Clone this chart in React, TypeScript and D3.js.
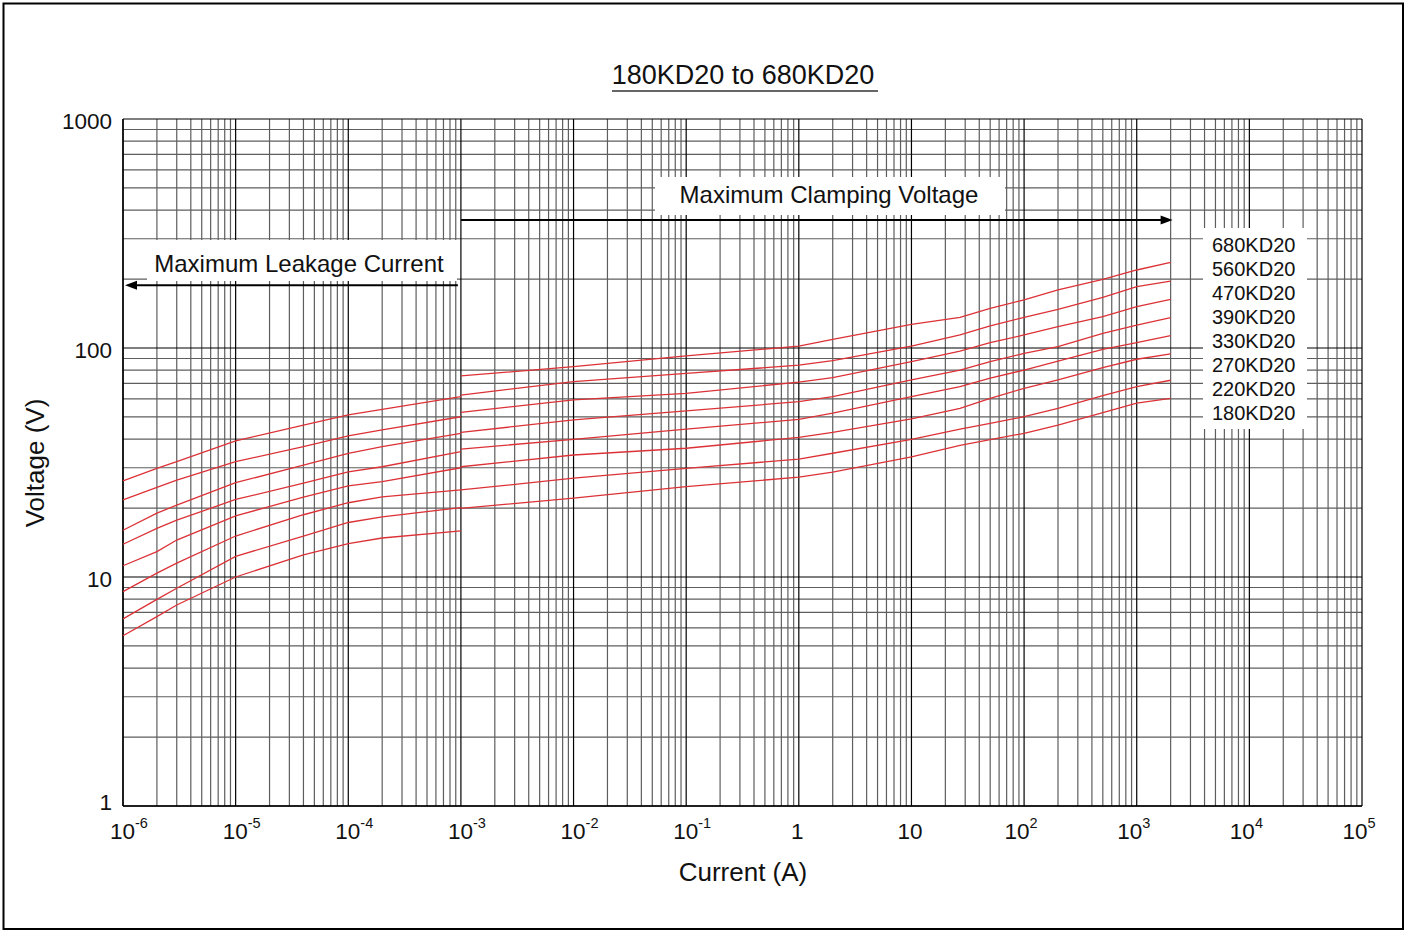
import React from "react";
import * as d3 from "d3";

const WIDTH = 1410;
const HEIGHT = 932;

const models = ["680KD20", "560KD20", "470KD20", "390KD20", "330KD20", "270KD20", "220KD20", "180KD20"];

// Maximum leakage current region (A)
const leakageCurrent = [1e-6, 2e-6, 3e-6, 1e-5, 4e-5, 1e-4, 2e-4, 1e-3];
const leak680 = [26.3, 29.8, 31.9, 39.3, 46.1, 51.0, 54.0, 61.3];
const leak560 = [21.7, 24.6, 26.5, 31.9, 37.1, 41.3, 43.9, 50.1];
const leak470 = [16.0, 19.0, 20.6, 25.8, 30.8, 34.7, 37.1, 42.4];
const leak390 = [13.9, 16.3, 17.7, 21.8, 25.7, 28.8, 30.3, 35.3];
const leak330 = [11.2, 12.9, 14.5, 18.5, 22.3, 25.0, 26.1, 30.0];
const leak270 = [8.63, 10.4, 11.5, 15.1, 18.7, 21.1, 22.4, 24.0];
const leak220 = [6.56, 7.99, 8.93, 12.3, 15.1, 17.3, 18.3, 20.1];
const leak180 = [5.54, 6.71, 7.55, 10.0, 12.5, 14.0, 14.8, 15.9];

// Maximum clamping voltage region (A)
const clampCurrent = [1e-3, 1e-2, 1e-1, 1, 2, 10, 27, 50, 100, 200, 500, 1000, 2000];
const clamp680 = [75.5, 82.9, 92.3, 102.0, 109.1, 126.9, 136.2, 149.1, 162.1, 179.2, 199.5, 219.1, 236.7];
const clamp560 = [62.3, 71.3, 77.5, 84.1, 88.0, 102.0, 114.0, 124.8, 136.2, 147.6, 166.5, 185.2, 196.1];
const clamp470 = [52.4, 59.3, 63.4, 71.0, 74.2, 87.1, 97.0, 105.5, 114.0, 123.9, 137.0, 151.5, 163.2];
const clamp390 = [42.8, 48.5, 53.1, 58.3, 61.3, 72.5, 80.1, 87.1, 94.8, 101.3, 115.9, 126.0, 135.6];
const clamp330 = [36.2, 39.9, 44.2, 48.8, 51.9, 61.3, 67.8, 73.8, 80.1, 87.7, 98.7, 105.5, 113.2];
const clamp270 = [30.3, 34.1, 36.5, 40.7, 42.8, 49.0, 54.5, 60.3, 66.7, 72.5, 82.0, 89.3, 94.2];
const clamp220 = [24.0, 27.0, 29.8, 32.7, 34.7, 39.9, 44.2, 46.9, 50.1, 54.5, 61.9, 67.8, 72.3];
const clamp180 = [19.95, 22.1, 24.8, 27.3, 28.7, 33.5, 37.6, 39.8, 42.4, 46.1, 52.2, 57.4, 60.3];

const leakageSeries = [leak680, leak560, leak470, leak390, leak330, leak270, leak220, leak180];
const clampSeries = [clamp680, clamp560, clamp470, clamp390, clamp330, clamp270, clamp220, clamp180];

const xExponents = [-6, -5, -4, -3, -2, -1, 0, 1, 2, 3, 4, 5];
const yTickValues = [1, 10, 100, 1000];
const yTickLabels = ["1", "10", "100", "1000"];

const FONT = "'Liberation Sans', Arial, Helvetica, sans-serif";
const RED = "#dc3237";
const MINOR = "#5e5e5e";

export default function App() {
  const x = d3.scaleLog().domain([1e-6, 1e5]).range([123, 1362]);
  const y = d3.scaleLog().domain([1, 1000]).range([806, 119]);

  const xMajor: number[] = xExponents.map((e) => Math.pow(10, e));
  const xMinor: number[] = [];
  for (let e = -6; e < 5; e++) for (let k = 2; k <= 9; k++) xMinor.push(k * Math.pow(10, e));
  const yMajor: number[] = [1, 10, 100, 1000];
  const yMinor: number[] = [];
  for (let e = 0; e < 3; e++) for (let k = 2; k <= 9; k++) yMinor.push(k * Math.pow(10, e));

  const [x0, x1] = x.range();
  const [y0, y1] = y.range();

  const line = d3
    .line<[number, number]>()
    .x((d) => x(d[0]))
    .y((d) => y(d[1]));

  const clampArrowY = y(362);
  const leakArrowY = y(188);
  const clampArrowStart = x(1e-3);
  const clampArrowEnd = x(clampCurrent[clampCurrent.length - 1]) + 2;
  const leakArrowStart = x(1e-6) + 2;
  const leakArrowEnd = x(1e-3) - 3;

  return (
    <svg
      width={WIDTH}
      height={HEIGHT}
      style={{ position: "absolute", left: 0, top: 0, background: "#fff" }}
      fontFamily={FONT}
    >
      <rect x={0} y={0} width={WIDTH} height={HEIGHT} fill="#fff" />
      <rect x={3.5} y={3.5} width={1399.5} height={925.5} fill="none" stroke="#000" strokeWidth={2} />

      {/* Title */}
      <text x={743} y={84} textAnchor="middle" fontSize={27} fill="#111">
        180KD20 to 680KD20
      </text>
      <line x1={612} x2={878} y1={91} y2={91} stroke="#333" strokeWidth={1.5} />

      {/* Grid */}
      <g>
        {xMinor.map((v, i) => (
          <line key={"xm" + i} x1={x(v)} x2={x(v)} y1={y1} y2={y0} stroke={MINOR} strokeWidth={1.2} />
        ))}
        {yMinor.map((v, i) => (
          <line key={"ym" + i} x1={x0} x2={x1} y1={y(v)} y2={y(v)} stroke={MINOR} strokeWidth={1.2} />
        ))}
        {xMajor.map((v, i) => (
          <line key={"xM" + i} x1={x(v)} x2={x(v)} y1={y1} y2={y0} stroke="#000" strokeWidth={1.2} />
        ))}
        {yMajor.map((v, i) => (
          <line key={"yM" + i} x1={x0} x2={x1} y1={y(v)} y2={y(v)} stroke="#000" strokeWidth={1.2} />
        ))}
        <line x1={x0} x2={x0} y1={y1} y2={y0} stroke="#000" strokeWidth={1.4} />
        <line x1={x0} x2={x1} y1={y0} y2={y0} stroke="#000" strokeWidth={1.4} />
      </g>

      {/* White label boxes */}
      <rect x={655} y={177} width={350} height={38} fill="#fff" />
      <rect x={147} y={240} width={310} height={41} fill="#fff" />
      <rect x={1203} y={228} width={104} height={201} fill="#fff" />

      {/* Curves */}
      <g fill="none" stroke={RED} strokeWidth={1.3}>
        {leakageSeries.map((vals, i) => (
          <path
            key={"leak" + i}
            d={line(leakageCurrent.map((c, j) => [c, vals[j]] as [number, number])) || ""}
          />
        ))}
        {clampSeries.map((vals, i) => (
          <path
            key={"clamp" + i}
            d={line(clampCurrent.map((c, j) => [c, vals[j]] as [number, number])) || ""}
          />
        ))}
      </g>

      {/* Arrows */}
      <line x1={clampArrowStart} x2={clampArrowEnd - 10} y1={clampArrowY} y2={clampArrowY} stroke="#000" strokeWidth={2} />
      <path
        d={`M${clampArrowEnd},${clampArrowY} L${clampArrowEnd - 12},${clampArrowY - 4.5} L${clampArrowEnd - 12},${clampArrowY + 4.5} Z`}
        fill="#000"
      />
      <line x1={leakArrowStart + 10} x2={leakArrowEnd} y1={leakArrowY} y2={leakArrowY} stroke="#000" strokeWidth={2} />
      <path
        d={`M${leakArrowStart},${leakArrowY} L${leakArrowStart + 12},${leakArrowY - 4.5} L${leakArrowStart + 12},${leakArrowY + 4.5} Z`}
        fill="#000"
      />

      <text x={829} y={203} textAnchor="middle" fontSize={24} fill="#111">
        Maximum Clamping Voltage
      </text>
      <text x={299} y={272} textAnchor="middle" fontSize={24} fill="#111">
        Maximum Leakage Current
      </text>

      {/* Legend labels */}
      {models.map((m, i) => (
        <text key={m} x={1212} y={252 + i * 24} fontSize={20} fill="#111">
          {m}
        </text>
      ))}

      {/* Y tick labels */}
      {yTickValues.map((v, i) => {
        const cy = Math.min(Math.max(y(v) + 2, 121), 802);
        return (
          <text key={"yt" + i} x={112} y={cy + 8} textAnchor="end" fontSize={22.5} fill="#111">
            {yTickLabels[i]}
          </text>
        );
      })}

      {/* X tick labels */}
      {xExponents.map((e) => {
        const gx = x(Math.pow(10, e));
        if (e === 0 || e === 1) {
          return (
            <text key={"xt" + e} x={gx - 1.5} y={839} textAnchor="middle" fontSize={22.5} fill="#111">
              {e === 0 ? "1" : "10"}
            </text>
          );
        }
        const start = e < 0 ? gx - 13 : gx - 19.5;
        return (
          <text key={"xt" + e} x={start} y={839} fontSize={22.5} fill="#111">
            10
            <tspan dy={-11} fontSize={14.5}>
              {e < 0 ? "-" + Math.abs(e) : String(e)}
            </tspan>
          </text>
        );
      })}

      {/* Axis titles */}
      <text x={743} y={881} textAnchor="middle" fontSize={26} fill="#111">
        Current (A)
      </text>
      <text
        transform={`translate(44,463) rotate(-90)`}
        textAnchor="middle"
        fontSize={26}
        fill="#111"
      >
        Voltage (V)
      </text>
    </svg>
  );
}
